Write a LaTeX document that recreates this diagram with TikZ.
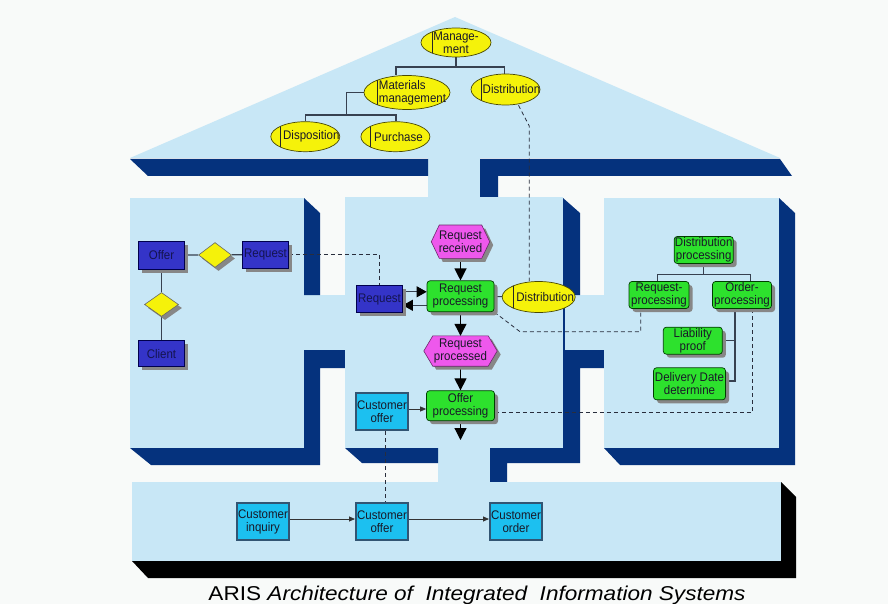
\documentclass[tikz,border=0pt]{standalone}
\usepackage{graphicx}
\usepackage{fontspec}
\setmainfont{Liberation Sans}
\newfontfamily\nodefont[FakeStretch=0.92]{Liberation Sans}
\usetikzlibrary{shapes.geometric,arrows.meta,shadows}
\definecolor{bgc}{RGB}{248,250,249}
\definecolor{lblue}{RGB}{200,231,246}
\definecolor{navy}{RGB}{5,50,125}
\definecolor{yel}{RGB}{245,242,10}
\definecolor{mag}{RGB}{238,88,236}
\definecolor{grn}{RGB}{45,225,45}
\definecolor{bbox}{RGB}{52,52,200}
\definecolor{cyanb}{RGB}{28,192,240}
\definecolor{cyanbd}{RGB}{50,85,115}
\definecolor{shd}{RGB}{135,135,135}
\definecolor{txt}{RGB}{25,25,40}
\definecolor{lnc}{RGB}{55,65,80}
\definecolor{dsc}{RGB}{40,45,60}
\pgfdeclarelayer{panels}
\pgfdeclarelayer{links}
\pgfdeclarelayer{hex}
\pgfsetlayers{panels,links,hex,main}
\tikzset{
  lbl/.style={font=\nodefont\fontsize{12.5}{13}\selectfont, text=txt, align=center, inner sep=0pt},
  oval/.style={lbl, ellipse, draw=black!70!yel, fill=yel, line width=0.7pt, inner sep=-15pt,
    path picture={\draw[line width=0.9pt, black!85] ([xshift=#1]path picture bounding box.north west) -- ([xshift=#1]path picture bounding box.south west);}},
  shad/.style={drop shadow={shadow xshift=3.5pt, shadow yshift=-3.5pt, fill=shd, opacity=1}},
  gbox/.style={lbl, rectangle, rounded corners=3pt, draw=black!60!green!60!black, fill=grn, line width=0.7pt, shad},
  bboxs/.style={lbl, rectangle, draw=black!70!blue, fill=bbox, line width=0.6pt, text={rgb,255:red,20;green,20;blue,80}, shad},
  cbox/.style={lbl, rectangle, draw=cyanbd, fill=cyanb, line width=2pt},
  dia/.style={diamond, draw=black!60, fill=yel, inner sep=0pt, line width=0.6pt, shad},
  hexn/.style={lbl, rectangle},
  hexs/.style={fill=mag, draw=black!55!mag, line width=0.6pt},
  treeln/.style={draw=lnc, line width=1.2pt},
  dsh/.style={draw=dsc, line width=0.8pt, dash pattern=on 4pt off 3pt},
  bigarr/.style={draw=black, line width=1.2pt, -{Triangle[length=12pt,width=12pt]}},
  medarr/.style={draw=lnc, line width=0.8pt, -{Triangle[length=10pt,width=11pt,color=black]}},
  smarr/.style={draw=black!80, line width=0.8pt, -{Triangle[length=6pt,width=5pt]}}
}
\begin{document}
\begin{tikzpicture}[x=1pt,y=-1pt]
\useasboundingbox (0,0) rectangle (888,604);
\begin{pgfonlayer}{panels}
\fill[bgc] (0,0) rectangle (888,604);
% roof
\fill[lblue] (130,158) -- (455,17) -- (780,158) -- cycle;
\fill[lblue] (428,157) rectangle (480,198);
\fill[navy] (130,159) -- (428,159) -- (428,176) -- (148,176) -- cycle;
\fill[navy] (480,159) -- (780,159) -- (792,176) -- (498,176) -- (498,197) -- (480,197) -- cycle;
% left panel
\fill[lblue] (130,198) rectangle (304,448);
\fill[lblue] (304,295) rectangle (345,350);
\fill[navy] (304,198) -- (320,213) -- (320,295) -- (304,295) -- cycle;
\fill[navy] (304,350) -- (345,350) -- (345,368) -- (320,368) -- (320,465) -- (151,465) -- (130,448) -- (304,448) -- cycle;
% middle panel
\fill[lblue] (345,197) rectangle (563,448);
\fill[lblue] (563,295) rectangle (604,350);
\fill[lblue] (438,447) rectangle (490,483);
\fill[navy] (563,198) -- (580,213) -- (580,295) -- (563,295) -- cycle;
\fill[navy] (345,448) -- (438,448) -- (438,463) -- (362,463) -- cycle;
\fill[navy] (563,350) -- (604,350) -- (604,368) -- (580,368) -- (580,463) -- (507,463) -- (507,482) -- (490,482) -- (490,448) -- (563,448) -- cycle;
\draw[navy, line width=2pt] (564,295) -- (564,350);
% right panel
\fill[lblue] (604,198) rectangle (779,448);
\fill[navy] (779,198) -- (795,213) -- (795,465) -- (620,465) -- (604,448) -- (779,448) -- cycle;
% base
\fill[lblue] (132,482) rectangle (781,561);
\fill[black] (781,482) -- (796,497) -- (796,578) -- (148,578) -- (132,561) -- (781,561) -- cycle;
\end{pgfonlayer}

% roof nodes
\node[oval=11pt, minimum width=70pt, minimum height=29pt] (mgmt) at (456,42.5) {Manage-\\ment};
\node[oval=13pt, minimum width=86pt, minimum height=34pt, align=left] (matm) at (407,92.5) {\hspace*{11pt}Materials\\\hspace*{11pt}management};
\node[oval=10pt, minimum width=69pt, minimum height=31pt] (distR) at (505.5,89.5) {\hspace*{12pt}Distribution};
\node[oval=10pt, minimum width=69pt, minimum height=30pt] (disp) at (305.3,136.7) {\hspace*{12pt}Disposition};
\node[oval=10pt, minimum width=69pt, minimum height=30pt] (purch) at (395.4,136.7) {\hspace*{6pt}Purchase};

% left panel nodes
\node[bboxs, minimum width=46pt, minimum height=28pt] (offer) at (161.5,255) {Offer};
\node[dia, minimum width=33pt, minimum height=25pt] (dia1) at (215,255) {};
\node[bboxs, minimum width=46pt, minimum height=27pt] (reqL) at (265.5,254.5) {Request};
\node[dia, minimum width=34pt, minimum height=24pt] (dia2) at (161.5,304.5) {};
\node[bboxs, minimum width=46pt, minimum height=26pt] (client) at (161.5,353.7) {Client};

% middle panel nodes
\node[hexn, minimum width=58pt, minimum height=33pt] (rr) at (460.5,241.7) {Request\\received};
\node[gbox, minimum width=67pt, minimum height=31pt] (rp) at (460.5,296.3) {Request\\processing};
\node[bboxs, minimum width=46pt, minimum height=27pt] (reqM) at (379.5,299) {Request};
\node[oval=11pt, minimum width=73pt, minimum height=31pt] (distM) at (538.7,297) {\hspace*{13pt}Distribution};
\node[hexn, minimum width=73pt, minimum height=30pt] (rpd) at (460.5,351) {Request\\processed};
\node[gbox, minimum width=68pt, minimum height=30pt] (op) at (460.5,405.7) {Offer\\processing};
\node[cbox, minimum width=52pt, minimum height=37pt] (coM) at (382,411.7) {Customer\\offer};
\coordinate (opout) at (460.5,440);

% right panel nodes
\node[gbox, minimum width=59pt, minimum height=27pt] (dproc) at (703.7,250) {Distribution\\processing};
\node[gbox, minimum width=60pt, minimum height=27pt] (rpR) at (659,295) {Request-\\processing};
\node[gbox, minimum width=59pt, minimum height=27pt] (ordR) at (742,295) {Order-\\processing};
\node[gbox, minimum width=59pt, minimum height=27pt] (liab) at (692.8,340.7) {Liability\\proof};
\node[gbox, minimum width=72pt, minimum height=32pt] (deliv) at (689.5,383.8) {Delivery Date\\determine};

% base nodes
\node[cbox, minimum width=52pt, minimum height=37pt] (ciB) at (263,521.7) {Customer\\inquiry};
\node[cbox, minimum width=52pt, minimum height=37pt] (coB) at (382,521.7) {Customer\\offer};
\node[cbox, minimum width=52pt, minimum height=37pt] (cordB) at (516,521.7) {Customer\\order};

% title
\node[anchor=base, font=\fontsize{20}{20}\selectfont, text=black, inner sep=0pt] (title) at (477,600)
  {\resizebox{537pt}{\height}{ARIS \textit{Architecture of\ \ Integrated\ \ Information Systems}}};

% hexagons
\begin{pgfonlayer}{hex}
\fill[shd] ([shift={(3.5,3.5)}]rr.west) -- ([shift={(3.5,3.5)},xshift=8pt]rr.north west) -- ([shift={(3.5,3.5)},xshift=-8pt]rr.north east) -- ([shift={(3.5,3.5)}]rr.east) -- ([shift={(3.5,3.5)},xshift=-8pt]rr.south east) -- ([shift={(3.5,3.5)},xshift=8pt]rr.south west) -- cycle;
\draw[hexs] (rr.west) -- ([xshift=8pt]rr.north west) -- ([xshift=-8pt]rr.north east) -- (rr.east) -- ([xshift=-8pt]rr.south east) -- ([xshift=8pt]rr.south west) -- cycle;
\fill[shd] ([shift={(3.5,3.5)}]rpd.west) -- ([shift={(3.5,3.5)},xshift=9pt]rpd.north west) -- ([shift={(3.5,3.5)},xshift=-9pt]rpd.north east) -- ([shift={(3.5,3.5)}]rpd.east) -- ([shift={(3.5,3.5)},xshift=-9pt]rpd.south east) -- ([shift={(3.5,3.5)},xshift=9pt]rpd.south west) -- cycle;
\draw[hexs] (rpd.west) -- ([xshift=9pt]rpd.north west) -- ([xshift=-9pt]rpd.north east) -- (rpd.east) -- ([xshift=-9pt]rpd.south east) -- ([xshift=9pt]rpd.south west) -- cycle;
\end{pgfonlayer}

% connectors
\begin{pgfonlayer}{links}
% roof tree
\draw[treeln] (mgmt.south) -- ++(0,9.7) coordinate (t1) -| ([xshift=-11pt]matm.north);
\draw[treeln] (t1) -| ([xshift=-1pt]distR.north);
\draw[treeln] (matm.west) -- ++(-17.3,0) -- ++(0,22.5) coordinate (t2);
\draw[treeln] (t2) -| (disp.north);
\draw[treeln] (t2) -| ([xshift=0.6pt]purch.north);
% left panel
\draw[treeln] (offer) -- (dia1) -- (reqL);
\draw[treeln] (offer) -- (dia2) -- (client);
% middle flow
\draw[bigarr] (rr) -- (rp);
\draw[bigarr] (rp) -- (rpd);
\draw[bigarr] (rpd) -- (op);
\draw[bigarr] (op) -- (opout);
\path (rp.west) ++(0,-4.5) coordinate (a1) (rp.west) ++(0,9) coordinate (a2) (op.west) ++(0,3.3) coordinate (a3);
\draw[medarr] (a1 -| reqM.east) -- (a1);
\draw[medarr] (a2) -- (a2 -| reqM.east);
\draw[treeln, line width=1pt] (rp) -- (distM);
\draw[smarr] (a3 -| coM.east) -- (a3);
% right tree
\draw[treeln] (dproc.south) -- ++(0,10.7) coordinate (t3);
\draw[treeln] (t3) -| ([xshift=-1.7pt]rpR.north);
\draw[treeln] (t3) -| ([xshift=8.7pt]ordR.north);
\draw[treeln] ([xshift=-7pt]ordR.south) |- (liab.east);
\draw[treeln] ([xshift=-7pt]ordR.south) |- ([yshift=2.8pt]deliv.east);
% base
\draw[smarr] ([yshift=2.7pt]ciB.east) -- ([yshift=2.7pt]coB.west);
\draw[smarr] ([yshift=2.7pt]coB.east) -- ([yshift=2.7pt]cordB.west);
% dashed links
\draw[dsh] (reqL.east) -| (reqM.north);
\draw[dsh] ([xshift=13pt]distR.south) -- (529.3,126) -- ([xshift=-9.4pt]distM.north);
\draw[dsh] (rp.south east) -- (520,331.7) -| ([xshift=-18.3pt]rpR.south);
\draw[dsh] ([yshift=-6.6pt]op.east) -| ([xshift=10.3pt]ordR.south);
\draw[dsh] ([xshift=3.7pt]coM.south) -- ([xshift=3.7pt]coB.north);
\end{pgfonlayer}
\end{tikzpicture}
\end{document}
